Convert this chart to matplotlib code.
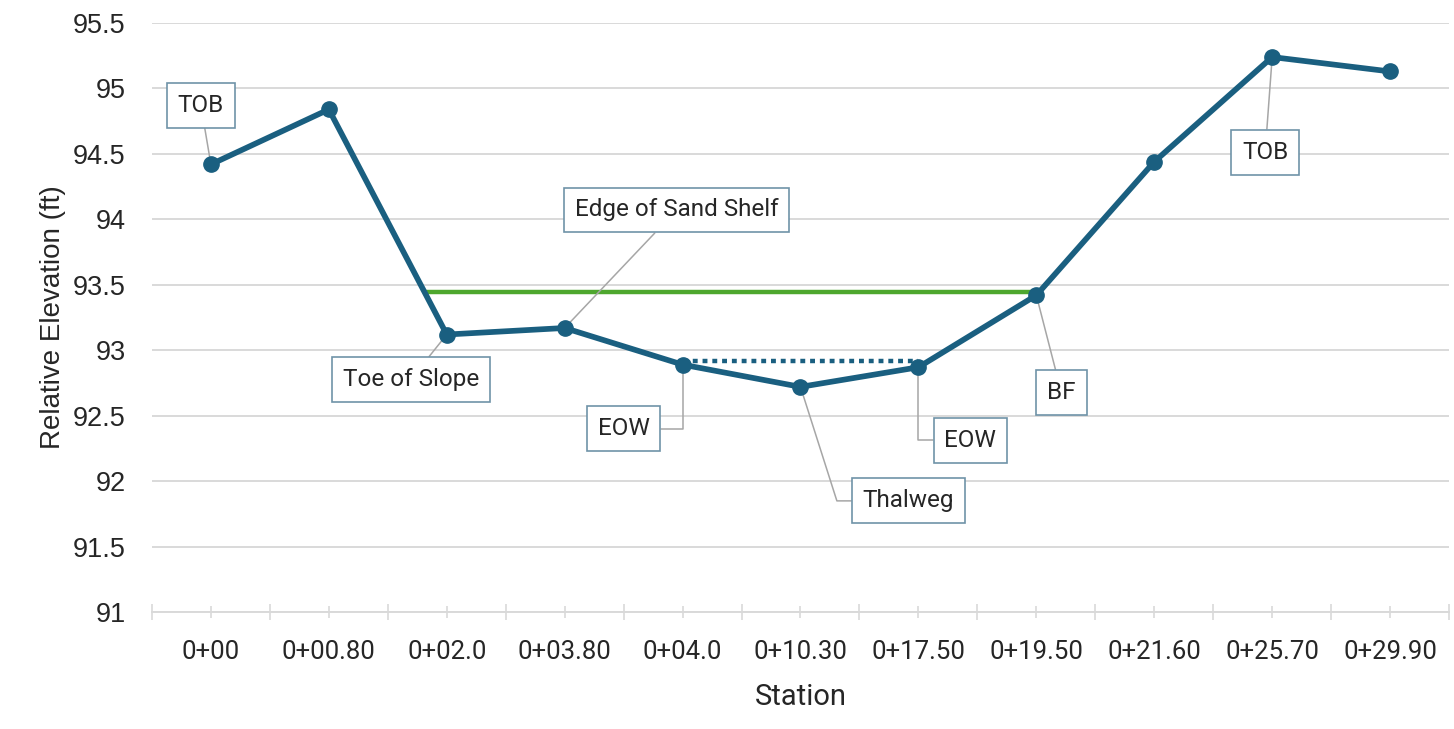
import numpy as np
import matplotlib
matplotlib.use("Agg")
import matplotlib.pyplot as plt
from matplotlib.ticker import FixedLocator

stations = ["0+00", "0+00.80", "0+02.0", "0+03.80", "0+04.0", "0+10.30",
            "0+17.50", "0+19.50", "0+21.60", "0+25.70", "0+29.90"]
elevation = [94.42, 94.84, 93.12, 93.17, 92.89, 92.72, 92.87, 93.42, 94.44, 95.24, 95.13]
bankfull_elev = 93.445
water_elev = 92.92
water_from, water_to = 4, 6  # EOW to EOW station indices

labels = ["TOB", "Edge of Sand Shelf", "Toe of Slope", "EOW", "Thalweg", "EOW", "BF", "TOB"]
label_idx = [0, 3, 2, 4, 5, 6, 7, 9]

BLUE = "#1A5F80"
GREEN = "#4EA72E"
GRID = "#D9D9D9"
TXT = "#262626"
BOX_EDGE = "#6F93A8"
LEADER = "#A6A6A6"

fig = plt.figure(figsize=(14.54, 7.29), dpi=100)
ax = fig.add_axes([0.1045, 0.1605, 0.8921, 0.8079])

x = np.arange(len(stations))

# bankfull line: from crossing on left bank to BF point
bf_idx = 7
x0 = 1 + (elevation[1] - bankfull_elev) / (elevation[1] - elevation[2])
ax.plot([x0, bf_idx], [bankfull_elev, bankfull_elev], color=GREEN, lw=3.2, zorder=3,
        solid_capstyle="butt")

# water surface dotted
ax.plot([water_from, water_to], [water_elev, water_elev], color=BLUE, lw=3.2,
        linestyle=(0, (1.1, 1.1)), zorder=3, dash_capstyle="butt")

ax.plot(x, elevation, color=BLUE, lw=4.1, marker="o", markersize=11, zorder=5,
        solid_joinstyle="round")

ax.set_xlim(-0.5, len(stations) - 0.5)
ax.set_ylim(91, 95.5)
yt = np.arange(91, 95.51, 0.5)
ax.set_yticks(yt)
ax.set_yticklabels([f"{v:g}" for v in yt], fontfamily="Liberation Sans", fontsize=19.5, color=TXT)
ax.tick_params(axis="y", length=0, pad=19)
ax.yaxis.grid(True, color=GRID, lw=1.4)
ax.set_axisbelow(True)

ax.set_xticks(x)
ax.set_xticklabels(stations, fontfamily="Roboto", fontsize=18.5, color=TXT)
ax.xaxis.set_minor_locator(FixedLocator(np.arange(-0.5, len(stations), 1.0)))
ax.tick_params(axis="x", which="major", length=8, width=1.2, color=GRID, direction="inout", pad=16)
ax.tick_params(axis="x", which="minor", length=12, width=1.2, color=GRID, direction="inout")

for s in ["top", "right", "left"]:
    ax.spines[s].set_visible(False)
ax.spines["bottom"].set_color(GRID)
ax.spines["bottom"].set_linewidth(1.4)

ax.set_xlabel("Station", fontfamily="Roboto", fontsize=21, color=TXT, labelpad=14)
ax.set_ylabel("Relative Elevation (ft)", fontfamily="Liberation Sans", fontsize=20,
              color=TXT, labelpad=5)

offsets = [(-10, 59), (112, 118), (-36, -45), (-59, -64), (108, -114), (52, -73), (25, -97), (-7, -95)]
conns = ["arc3", "arc3", "arc3", "angle,angleA=0,angleB=90,rad=0",
         "angle,angleA=0,angleB=107.7,rad=0", "angle,angleA=0,angleB=90,rad=0", "arc3", "arc3"]

for lab, i, off, cs in zip(labels, label_idx, offsets, conns):
    ax.annotate(lab, xy=(x[i], elevation[i]), xytext=off, textcoords="offset pixels",
                ha="center", va="center", fontfamily="Roboto", fontsize=17.5, color=TXT,
                bbox=dict(boxstyle="square,pad=0.45", fc="white", ec=BOX_EDGE, lw=1.2),
                arrowprops=dict(arrowstyle="-", color=LEADER, lw=1.1, shrinkA=0, shrinkB=0,
                                connectionstyle=cs),
                zorder=4)

fig.savefig("out.png", dpi=100, facecolor="white")
